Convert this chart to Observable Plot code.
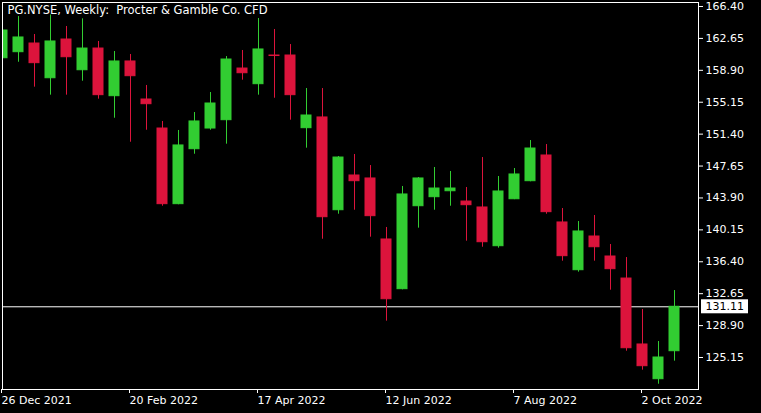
<!DOCTYPE html>
<html><head><meta charset="utf-8">
<script src="https://cdn.jsdelivr.net/npm/d3@7"></script>
<script src="https://cdn.jsdelivr.net/npm/@observablehq/plot@0.6"></script>
<style>html,body{margin:0;padding:0;background:#000;overflow:hidden;} svg text{white-space:pre;}</style>
</head><body><div id="chart"></div>
<script>
const title = "PG.NYSE, Weekly:\u00a0 Procter & Gamble Co. CFD";
// weekly candles, week index 0 = 26 Dec 2021
const open  = [160.32,161.03,162.05,157.97,162.52,158.91,161.46,155.86,159.94,155.47,152.06,143.17,149.63,152.06,153.04,159.11,157.27,160.64,160.64,152.10,153.36,142.46,146.54,146.19,139.02,133.18,142.93,143.99,144.69,143.48,142.78,138.23,143.75,145.87,148.89,141.02,135.41,139.37,137.02,134.43,126.68,122.60,125.89];
const high  = [164.20,165.22,163.11,165.40,164.05,164.95,162.29,161.11,160.76,157.12,152.89,151.83,153.94,156.29,160.52,161.23,164.99,163.70,161.93,156.76,156.76,148.77,149.01,147.71,140.43,145.25,146.30,147.48,147.01,145.13,148.65,146.42,147.36,150.65,150.18,142.66,141.13,141.84,138.43,136.90,130.79,127.03,133.02];
const low   = [159.90,159.85,156.92,155.98,155.98,157.62,155.51,153.27,150.45,151.86,142.93,143.10,149.04,151.86,150.22,157.74,155.98,155.62,153.04,149.75,139.05,141.99,142.46,139.29,129.42,133.10,140.35,142.46,142.93,138.82,138.11,138.00,143.70,145.80,141.99,136.47,135.18,136.47,133.06,125.89,123.66,122.01,124.72];
const close = [163.58,162.76,159.74,162.29,160.44,161.46,155.98,159.94,158.21,154.92,143.17,150.07,152.89,155.00,160.17,158.56,161.35,160.58,155.98,153.59,141.64,148.65,145.87,141.76,132.00,144.31,146.19,145.01,145.01,143.05,138.70,144.66,146.66,149.71,142.23,137.06,139.96,138.11,135.53,126.24,124.13,125.15,131.11];
const xTickIdx = [0, 8, 16, 24, 32, 40];
const xTickLabels = ["26 Dec 2021","20 Feb 2022","17 Apr 2022","12 Jun 2022","7 Aug 2022","2 Oct 2022"];
const yTicks = [166.40,162.65,158.90,155.15,151.40,147.65,143.90,140.15,136.40,132.65,128.90,125.15];
const lastClose = close[close.length - 1];

const GREEN = "#32cd32", RED = "#dc143c";
const data = open.map((o, i) => ({i, open: o, high: high[i], low: low[i], close: close[i], col: close[i] >= o ? GREEN : RED}));
const labelOf = new Map(xTickIdx.map((d, k) => [d, xTickLabels[k]]));

const chart = Plot.plot({
  width: 761, height: 413,
  marginLeft: 2, marginRight: 63, marginTop: 2, marginBottom: 24,
  style: {background: "#000", color: "#fff", fontFamily: "DejaVu Sans", fontSize: "11px"},
  x: {domain: [0, 43.5], axis: null, label: null},
  y: {domain: [121.39, 166.87], axis: null, label: null},
  color: {type: "identity"},
  marks: [
    Plot.ruleY([lastClose], {stroke: "#fff"}),
    Plot.ruleX(data, {x: "i", y1: "low", y2: "high", stroke: "col", clip: true}),
    Plot.rect(data, {x1: d => d.i - 0.3125, x2: d => d.i + 0.3125, y1: "open", y2: "close", fill: "col", stroke: "col", strokeWidth: 1, clip: true}),
    Plot.frame({stroke: "#fff"}),
    Plot.axisY(yTicks, {anchor: "right", tickSize: 4, tickPadding: 3, tickFormat: d => d.toFixed(2), fill: "#fff", stroke: "#fff", label: null}),
    Plot.axisX(xTickIdx, {anchor: "bottom", tickSize: 4, tickPadding: 3, tickFormat: d => labelOf.get(d), textAnchor: "start", dx: -1, fill: "#fff", stroke: "#fff", label: null}),
    Plot.text([title], {frameAnchor: "top-left", dx: 5, dy: 3, lineAnchor: "top", textAnchor: "start", fill: "#fff", fontSize: 11.5}),
    Plot.text([lastClose], {y: d => d, text: d => d.toFixed(2), frameAnchor: "right", dx: 7, textAnchor: "start", fill: "#000"})
  ]
});
document.getElementById("chart").append(chart);

// white box behind the current-price label (placed from the chart's own scales)
const ys = chart.scale("y"), xs = chart.scale("x");
const yPix = ys.apply(lastClose);
const xRight = xs.range[1];
const box = document.createElementNS("http://www.w3.org/2000/svg", "rect");
box.setAttribute("x", xRight + 3);
box.setAttribute("y", yPix - 7);
box.setAttribute("width", 47);
box.setAttribute("height", 14);
box.setAttribute("fill", "#fff");
chart.insertBefore(box, chart.lastElementChild);
</script>
</body></html>
